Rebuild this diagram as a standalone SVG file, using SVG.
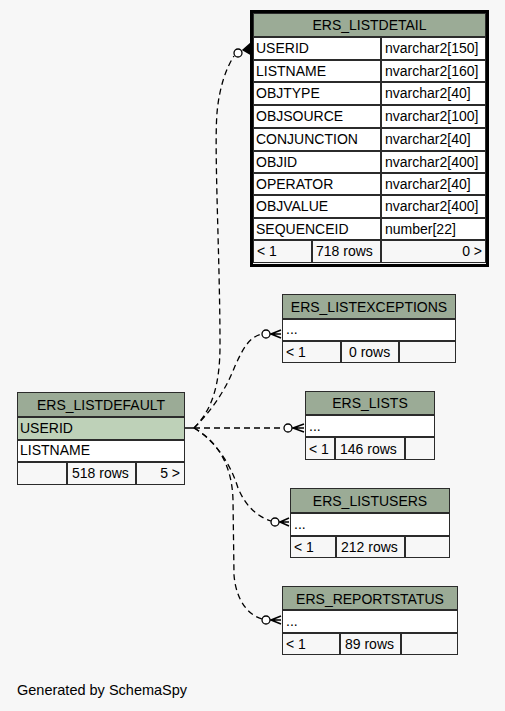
<svg xmlns="http://www.w3.org/2000/svg" width="505" height="711" viewBox="0 0 505 711">
<style>
.hdr{fill:#9bab96;stroke:#2b2b2b;stroke-width:1}
.cell{fill:#ffffff;stroke:#2b2b2b;stroke-width:1}
.key{fill:#bed1b8;stroke:#2b2b2b;stroke-width:1}
.foot{fill:#f7f7f7;stroke:#2b2b2b;stroke-width:1}
text{font-family:"Liberation Sans",Arial,sans-serif;font-size:14px;fill:#000}
.c{text-anchor:middle}
.r{text-anchor:end}
.edge{fill:none;stroke:#000;stroke-width:1.3;stroke-dasharray:6,4}
.circ{fill:#fff;stroke:#000;stroke-width:1.3}
.crow{fill:#000;stroke:#000;stroke-width:1.5;stroke-linejoin:miter}
</style>
<rect x="0" y="0" width="505" height="711" fill="#f7f7f7"/>

<g id="connectors">
  <line x1="184" y1="428" x2="194" y2="428" stroke="#000" stroke-width="1.5"/>
  <path class="edge" d="M194,428 C212,410 220,385 220,345 C220,260 214,150 217,113 C219,90 225,70 234,56"/>
  <circle class="circ" cx="238" cy="53" r="4"/>
  <polygon class="crow" points="243,50 250,44 250,54"/>
  <path class="edge" d="M194,428 C210,412 225,392 235,366 C244,346 250,337 262,334"/>
  <circle class="circ" cx="266" cy="334" r="4"/>
  <path class="crow" d="M270,334 L281,334 M271,334 L281,330 M271,334 L281,338"/>
  <path class="edge" d="M194,428 L284,428"/>
  <circle class="circ" cx="288" cy="428" r="4"/>
  <path class="crow" d="M292,428 L304,428 M293,428 L304,424 M293,428 L304,432"/>
  <path class="edge" d="M194,428 C214,440 230,462 238,488 C245,505 256,516 271,521"/>
  <circle class="circ" cx="275" cy="522" r="4"/>
  <path class="crow" d="M279,522 L289,522 M280,522 L289,518 M280,522 L289,526"/>
  <path class="edge" d="M194,428 C215,440 232,462 233,500 L234,575 C236,600 248,615 262,619"/>
  <circle class="circ" cx="266" cy="620" r="4"/>
  <path class="crow" d="M270,620 L281,620 M271,620 L281,616 M271,620 L281,624"/>
</g>

<g id="ERS_LISTDETAIL">
  <rect x="251.5" y="11.5" width="236" height="254" fill="none" stroke="#000" stroke-width="3"/>
  <rect class="hdr" x="253.5" y="13.5" width="232" height="23"/>
  <text class="c" x="369.5" y="30">ERS_LISTDETAIL</text>
  <rect class="cell" x="253.5" y="37.5" width="127" height="22"/><rect class="cell" x="381.5" y="37.5" width="104" height="22"/>
  <rect class="cell" x="253.5" y="60.5" width="127" height="21"/><rect class="cell" x="381.5" y="60.5" width="104" height="21"/>
  <rect class="cell" x="253.5" y="82.5" width="127" height="22"/><rect class="cell" x="381.5" y="82.5" width="104" height="22"/>
  <rect class="cell" x="253.5" y="105.5" width="127" height="22"/><rect class="cell" x="381.5" y="105.5" width="104" height="22"/>
  <rect class="cell" x="253.5" y="128.5" width="127" height="22"/><rect class="cell" x="381.5" y="128.5" width="104" height="22"/>
  <rect class="cell" x="253.5" y="151.5" width="127" height="21"/><rect class="cell" x="381.5" y="151.5" width="104" height="21"/>
  <rect class="cell" x="253.5" y="173.5" width="127" height="21"/><rect class="cell" x="381.5" y="173.5" width="104" height="21"/>
  <rect class="cell" x="253.5" y="195.5" width="127" height="22"/><rect class="cell" x="381.5" y="195.5" width="104" height="22"/>
  <rect class="cell" x="253.5" y="218.5" width="127" height="21"/><rect class="cell" x="381.5" y="218.5" width="104" height="21"/>
  <rect class="foot" x="253.5" y="240.5" width="58" height="22"/><rect class="foot" x="312.5" y="240.5" width="68" height="22"/><rect class="foot" x="381.5" y="240.5" width="104" height="22"/>
  <text x="256" y="53">USERID</text><text x="385" y="53">nvarchar2[150]</text>
  <text x="256" y="76">LISTNAME</text><text x="385" y="76">nvarchar2[160]</text>
  <text x="256" y="98">OBJTYPE</text><text x="385" y="98">nvarchar2[40]</text>
  <text x="256" y="121">OBJSOURCE</text><text x="385" y="121">nvarchar2[100]</text>
  <text x="256" y="144">CONJUNCTION</text><text x="385" y="144">nvarchar2[40]</text>
  <text x="256" y="167">OBJID</text><text x="385" y="167">nvarchar2[400]</text>
  <text x="256" y="189">OPERATOR</text><text x="385" y="189">nvarchar2[40]</text>
  <text x="256" y="211">OBJVALUE</text><text x="385" y="211">nvarchar2[400]</text>
  <text x="256" y="234">SEQUENCEID</text><text x="385" y="234">number[22]</text>
  <text x="257" y="256">&lt; 1</text><text x="316" y="256">718 rows</text><text class="r" x="482" y="256">0 &gt;</text>
</g>

<g id="ERS_LISTEXCEPTIONS">
  <rect class="hdr" x="282.5" y="294.5" width="173" height="24"/>
  <rect class="cell" x="282.5" y="319.5" width="173" height="21"/>
  <rect class="foot" x="282.5" y="341.5" width="58" height="21"/><rect class="foot" x="341.5" y="341.5" width="57" height="21"/><rect class="foot" x="399.5" y="341.5" width="56" height="21"/>
  <text class="c" x="369" y="312">ERS_LISTEXCEPTIONS</text>
  <text x="286" y="334">...</text>
  <text x="286" y="357">&lt; 1</text><text x="349" y="357">0 rows</text>
</g>

<g id="ERS_LISTS">
  <rect class="hdr" x="305.5" y="391.5" width="129" height="23"/>
  <rect class="cell" x="305.5" y="415.5" width="129" height="21"/>
  <rect class="foot" x="305.5" y="437.5" width="29" height="22"/><rect class="foot" x="335.5" y="437.5" width="69" height="22"/><rect class="foot" x="405.5" y="437.5" width="29" height="22"/>
  <text class="c" x="370" y="408">ERS_LISTS</text>
  <text x="309" y="431">...</text>
  <text x="309" y="454">&lt; 1</text><text x="340" y="454">146 rows</text>
</g>

<g id="ERS_LISTUSERS">
  <rect class="hdr" x="290.5" y="488.5" width="159" height="24"/>
  <rect class="cell" x="290.5" y="513.5" width="159" height="22"/>
  <rect class="foot" x="290.5" y="536.5" width="45" height="21"/><rect class="foot" x="336.5" y="536.5" width="68" height="21"/><rect class="foot" x="405.5" y="536.5" width="44" height="21"/>
  <text class="c" x="370" y="506">ERS_LISTUSERS</text>
  <text x="294" y="529">...</text>
  <text x="294" y="552">&lt; 1</text><text x="341" y="552">212 rows</text>
</g>

<g id="ERS_REPORTSTATUS">
  <rect class="hdr" x="282.5" y="586.5" width="175" height="23"/>
  <rect class="cell" x="282.5" y="610.5" width="175" height="22"/>
  <rect class="foot" x="282.5" y="633.5" width="57" height="21"/><rect class="foot" x="340.5" y="633.5" width="60" height="21"/><rect class="foot" x="401.5" y="633.5" width="56" height="21"/>
  <text class="c" x="370" y="604">ERS_REPORTSTATUS</text>
  <text x="286" y="626">...</text>
  <text x="286" y="649">&lt; 1</text><text x="345" y="649">89 rows</text>
</g>

<g id="ERS_LISTDEFAULT">
  <rect class="hdr" x="17.5" y="392.5" width="167" height="24"/>
  <rect class="key" x="17.5" y="417.5" width="167" height="22"/>
  <rect class="cell" x="17.5" y="440.5" width="167" height="21"/>
  <rect class="foot" x="17.5" y="462.5" width="49" height="22"/><rect class="foot" x="67.5" y="462.5" width="68" height="22"/><rect class="foot" x="136.5" y="462.5" width="48" height="22"/>
  <text class="c" x="101" y="410">ERS_LISTDEFAULT</text>
  <text x="20" y="433">USERID</text>
  <text x="20" y="455">LISTNAME</text>
  <text x="72" y="478">518 rows</text><text class="r" x="180" y="478">5 &gt;</text>
</g>

<text x="17" y="695" style="font-size:14.5px">Generated by SchemaSpy</text>
</svg>
